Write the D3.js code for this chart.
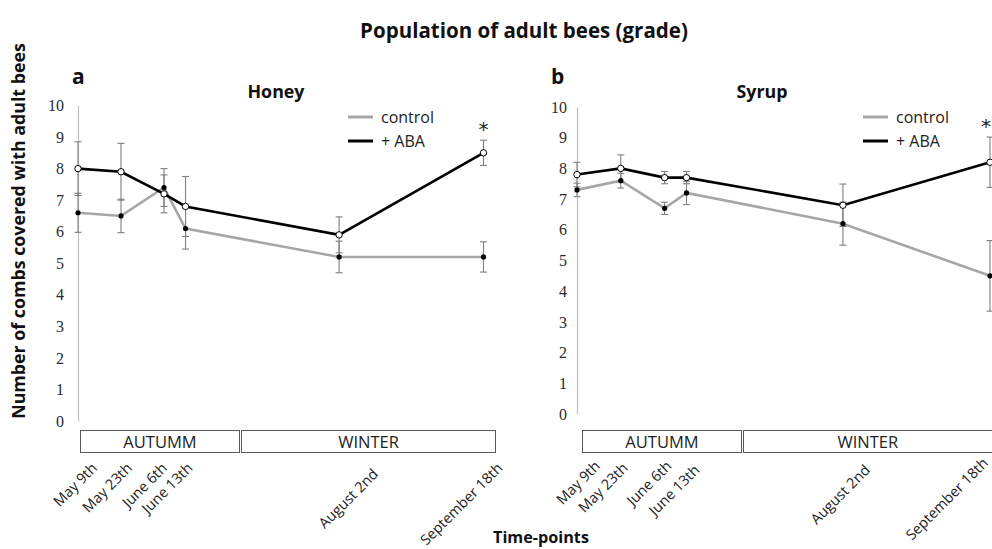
<!DOCTYPE html>
<html><head><meta charset="utf-8">
<script src="https://cdn.jsdelivr.net/npm/d3@7"></script>
<style>
html,body{margin:0;padding:0;background:#fff;}
svg{display:block;}
.ytick{font-family:'Liberation Serif','Times New Roman','DejaVu Serif',serif;font-size:16px;}
</style></head>
<body>
<svg id="chart" width="992" height="549"></svg>
<script>
// ---------------- data ----------------
const timePoints = ["2019-05-09","2019-05-23","2019-06-06","2019-06-13","2019-08-02","2019-09-18"];
const timeLabels = ["May 9th","May 23th","June 6th","June 13th","August 2nd","September 18th"];
const yTicks = [0,1,2,3,4,5,6,7,8,9,10];
const seasons = ["AUTUMM","WINTER"];

const honeyControl    = [6.6, 6.5, 7.4, 6.1, 5.2, 5.2];
const honeyControlErr = [0.62,0.53,0.6, 0.65,0.5, 0.48];
const honeyABA        = [8.0, 7.9, 7.2, 6.8, 5.9, 8.5];
const honeyABAErr     = [0.85,0.9, 0.6, 0.95,0.57,0.4];

const syrupControl    = [7.3, 7.6, 6.7, 7.2, 6.2, 4.5];
const syrupControlErr = [0.22,0.24,0.2, 0.38,0.7, 1.15];
const syrupABA        = [7.8, 8.0, 7.7, 7.7, 6.8, 8.2];
const syrupABAErr     = [0.4, 0.44,0.2, 0.2, 0.69,0.82];

// ---------------- layout ----------------
const parse = d3.timeParse("%Y-%m-%d");
const dates = timePoints.map(parse);
const svg = d3.select("#chart");
const grayLine = "#a6a6a6", errColor = "#7f7f7f";
const sans = "'Open Sans', Lato, sans-serif";

// scale a text's font size so that it spans the given width
function fit(sel, width) {
  const fs = +sel.style("font-size").replace("px","");
  const len = sel.node().getComputedTextLength();
  if (len > 0) sel.style("font-size", (fs * width / len) + "px");
  return sel;
}
function txt(parent, s, size, weight) {
  return parent.append("text").style("font-family", sans).style("font-size", size + "px")
    .style("font-weight", weight || "normal").attr("fill", "#111").text(s);
}

const panels = [
  {letter:"a", name:"Honey", ctrl:honeyControl, ctrlErr:honeyControlErr, aba:honeyABA, abaErr:honeyABAErr,
   xr:[78,483.5], yr:[421,105.5], pad:14, letterX:72, nameX:276, nameW:57, legX:348,
   boxes:[[80.5,239.5],[241.5,495.5]],
   labDx:[20,12,4,8,40,20], labY:[469,469,469,469,475,469]},
  {letter:"b", name:"Syrup", ctrl:syrupControl, ctrlErr:syrupControlErr, aba:syrupABA, abaErr:syrupABAErr,
   xr:[577,990], yr:[414,107], pad:10, letterX:551, nameX:762, nameW:51, legX:863,
   boxes:[[582.5,741.5],[743.5,1000]],
   labDx:[24,8,8,14,28,-1], labY:[467,469,467,471,471,464]}
];

panels.forEach(p => {
  const x = d3.scaleTime().domain(d3.extent(dates)).range(p.xr);
  const y = d3.scaleLinear().domain([0,10]).range(p.yr);
  const g = svg.append("g");

  // y axis
  const ax = g.append("g").attr("transform",`translate(${p.xr[0]},0)`)
    .call(d3.axisLeft(y).tickValues(yTicks).tickSize(0).tickPadding(p.pad).tickFormat(d3.format("d")));
  ax.attr("font-family", null).attr("font-size", null);
  ax.select(".domain").attr("stroke","#bfbfbf").attr("stroke-width",1.2);
  ax.selectAll("text").attr("class","ytick")
    .attr("font-family","Liberation Serif").attr("font-size",16).attr("fill","#2b2b2b");

  // lines
  const line = vals => d3.line().x((d,i)=>x(dates[i])).y(d=>y(d))(vals);
  g.append("path").attr("d",line(p.ctrl)).attr("fill","none").attr("stroke",grayLine).attr("stroke-width",2.6);
  g.append("path").attr("d",line(p.aba)).attr("fill","none").attr("stroke","#000").attr("stroke-width",2.6);

  // error bars
  [[p.ctrl,p.ctrlErr],[p.aba,p.abaErr]].forEach(([v,e]) => {
    v.forEach((m,i) => {
      const cx = x(dates[i]);
      g.append("line").attr("x1",cx).attr("x2",cx).attr("y1",y(m-e[i])).attr("y2",y(m+e[i]))
        .attr("stroke",errColor).attr("stroke-width",1.1);
      [m-e[i], m+e[i]].forEach(t => g.append("line").attr("x1",cx-3.5).attr("x2",cx+3.5)
        .attr("y1",y(t)).attr("y2",y(t)).attr("stroke",errColor).attr("stroke-width",1.1));
    });
  });

  // markers
  g.selectAll(null).data(p.ctrl).enter().append("circle")
    .attr("cx",(d,i)=>x(dates[i])).attr("cy",d=>y(d)).attr("r",2.6).attr("fill","#000");
  g.selectAll(null).data(p.aba).enter().append("circle")
    .attr("cx",(d,i)=>x(dates[i])).attr("cy",d=>y(d)).attr("r",3.2)
    .attr("fill","#fff").attr("stroke","#000").attr("stroke-width",1);

  // asterisk above last ABA point
  const last = dates.length-1;
  g.append("text").attr("x",Math.min(x(dates[last]), 986)).attr("y",y(p.aba[last]+p.abaErr[last])-4)
    .attr("text-anchor","middle").style("font-family","'DejaVu Sans', sans-serif").style("font-size","20px")
    .attr("fill","#222").text("*");

  // panel letter and name
  txt(g, p.letter, 21, "bold").attr("x",p.letterX).attr("y",84);
  fit(txt(g, p.name, 16, "bold").attr("x",p.nameX).attr("y",98).attr("text-anchor","middle"), p.nameW);

  // legend
  [["control",grayLine,117],["+ ABA","#000",141]].forEach(([t,c,ly]) => {
    g.append("line").attr("x1",p.legX).attr("x2",p.legX+25).attr("y1",ly).attr("y2",ly)
      .attr("stroke",c).attr("stroke-width",3);
    txt(g, t, 16).attr("x",p.legX+33).attr("y",ly+5.5).attr("fill","#222");
  });

  // season boxes
  p.boxes.forEach((b,i) => {
    g.append("rect").attr("x",b[0]).attr("y",430.5).attr("width",b[1]-b[0]).attr("height",22)
      .attr("fill","#fff").attr("stroke","#595959").attr("stroke-width",1);
    txt(g, seasons[i], 16.5).attr("x",(b[0]+Math.min(b[1],992))/2).attr("y",447.5)
      .attr("text-anchor","middle").attr("fill","#222");
  });

  // rotated time labels
  timeLabels.forEach((t,i) => {
    const tx = x(dates[i]) + p.labDx[i], ty = p.labY[i];
    txt(g, t, 14.5).attr("transform",`translate(${tx},${ty}) rotate(-45)`)
      .attr("text-anchor","end").attr("fill","#222");
  });
});

// titles
fit(txt(svg, "Population of adult bees (grade)", 19, "bold").attr("x",524).attr("y",38)
  .attr("text-anchor","middle"), 328);
fit(txt(svg, "Number of combs covered with adult bees", 17, "bold")
  .attr("transform","translate(25,231) rotate(-90)").attr("text-anchor","middle"), 376);
fit(txt(svg, "Time-points", 17, "bold").attr("x",541).attr("y",543).attr("text-anchor","middle"), 96);
</script>
</body></html>
